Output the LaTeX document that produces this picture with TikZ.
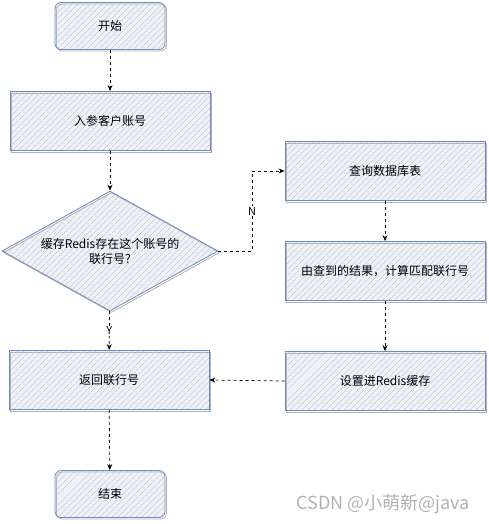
\documentclass[tikz,border=0pt]{standalone}
\usepackage{fontspec}
\setmainfont{Noto Sans CJK SC}
\usepackage{tikz}
\usetikzlibrary{shapes.geometric,arrows.meta,patterns.meta,shadows}

\definecolor{boxline}{HTML}{6C8EBF}
\definecolor{boxfill}{HTML}{EEF2F8}

\begin{document}
\begin{tikzpicture}[x=1pt,y=-1pt,
    font=\fontsize{12}{15}\selectfont,
    hatch/.style={draw=boxline,line width=0.8pt,
        preaction={fill=boxfill},
        pattern={Lines[angle=45,distance=4pt,line width=0.35pt]},pattern color=gray!55,
        drop shadow={shadow xshift=1.5pt,shadow yshift=-1.5pt,fill=none,draw=gray!60,opacity=1}},
    stepbox/.style={hatch,rectangle,minimum width=200pt,minimum height=59pt},
    endbox/.style={hatch,rectangle,rounded corners=6pt,minimum width=110pt,minimum height=47pt},
    choice/.style={hatch,diamond,aspect=1.8,inner sep=0pt,minimum width=216pt,minimum height=120pt,
        text width=150pt,align=center},
    flow/.style={draw=black,dashed,line width=0.7pt,-{Stealth[length=6pt,width=5pt]}},
    tag/.style={fill=white,inner sep=1pt,font=\fontsize{11}{13}\selectfont}]
    \useasboundingbox (0,0) rectangle (488,524);

    \node[endbox] (start) at (110,26) {开始};
    \node[stepbox] (input) at (110,121) {入参客户账号};
    \node[choice] (cache) at (110,251) {缓存Redis存在这个账号的\\联行号?};
    \node[stepbox] (return) at (109,380) {返回联行号};
    \node[endbox] (stop) at (110,494) {结束};
    \node[stepbox] (query) at (385,171) {查询数据库表};
    \node[stepbox] (match) at (385,271) {由查到的结果，计算匹配联行号};
    \node[stepbox] (save) at (385,381) {设置进Redis缓存};
    \coordinate (turn) at (252,251);

    \draw[flow] (start) -- (input);
    \draw[flow] (input) -- (cache);
    \draw[flow] (cache) -- node[tag] {Y} (return);
    \draw[flow] (cache.east) -- (turn) |- node[tag,pos=0.25] {N} (query.west);
    \draw[flow] (query) -- (match);
    \draw[flow] (match) -- (save);
    \draw[flow] (save.west) -- (return.east);
    \draw[flow] (return) -- (stop);

    \node[text=gray!60,font=\fontsize{18}{21}\selectfont] (mark) at (383,504) {CSDN @小萌新@java};
\end{tikzpicture}
\end{document}
